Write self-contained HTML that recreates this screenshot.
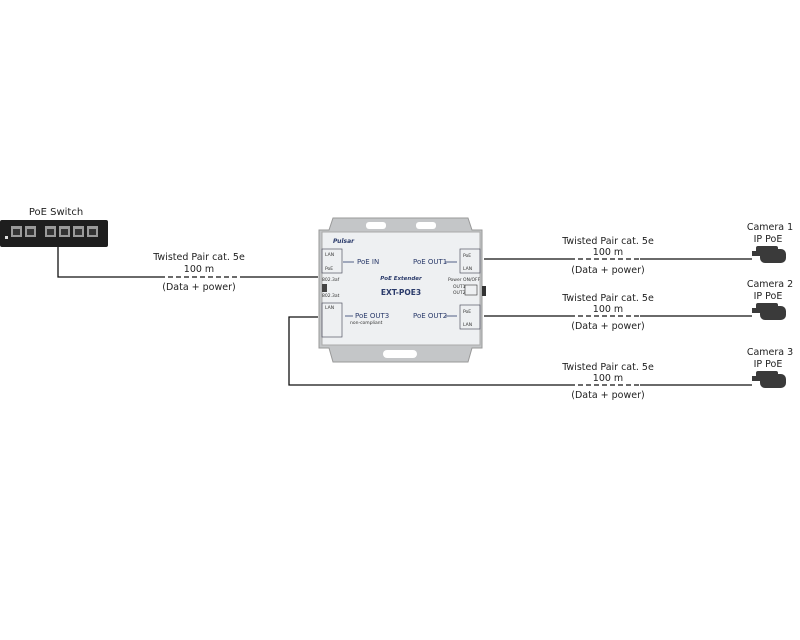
<!DOCTYPE html>
<html><head><style>
body{margin:0;background:#fff;width:800px;height:640px;overflow:hidden;font-family:"DejaVu Sans","Liberation Sans",sans-serif}
svg{position:absolute;left:0;top:0}
</style></head><body>
<svg width="800" height="640" viewBox="0 0 800 640" font-family="DejaVu Sans, Liberation Sans, sans-serif">
<!-- switch -->
<text x="56" y="215" font-size="10" text-anchor="middle" fill="#222">PoE Switch</text>
<rect x="0" y="220" width="108" height="27" rx="2" fill="#1e1e1e"/>
<g fill="#9a9a9a">
<rect x="11" y="226" width="11" height="11"/><rect x="25" y="226" width="11" height="11"/>
<rect x="45" y="226" width="11" height="11"/><rect x="59" y="226" width="11" height="11"/>
<rect x="73" y="226" width="11" height="11"/><rect x="87" y="226" width="11" height="11"/>
</g>
<g fill="#333"><rect x="13" y="229" width="7" height="6"/><rect x="27" y="229" width="7" height="6"/><rect x="47" y="229" width="7" height="6"/><rect x="61" y="229" width="7" height="6"/><rect x="75" y="229" width="7" height="6"/><rect x="89" y="229" width="7" height="6"/></g>
<rect x="5" y="236" width="3" height="3" fill="#ddd"/>
<!-- lines -->
<g stroke="#111" stroke-width="1.3" fill="none">
<path d="M58 247 V277 H160 M240 277 H318"/>
<path d="M484 259 H570 M640 259 H752"/>
<path d="M484 316 H570 M640 316 H752"/>
<path d="M318 317 H289 V385 H570 M640 385 H752"/>
<g stroke-dasharray="5,3"><path d="M160 277 H240"/><path d="M570 259 H640"/><path d="M570 316 H640"/><path d="M570 385 H640"/></g>
</g>
<g font-size="9.5" text-anchor="middle" fill="#222">
<text x="199" y="260">Twisted Pair cat. 5e</text><text x="199" y="272">100 m</text><text x="199" y="290">(Data + power)</text>
<text x="608" y="244">Twisted Pair cat. 5e</text><text x="608" y="255">100 m</text><text x="608" y="273">(Data + power)</text>
<text x="608" y="301">Twisted Pair cat. 5e</text><text x="608" y="312">100 m</text><text x="608" y="329">(Data + power)</text>
<text x="608" y="370">Twisted Pair cat. 5e</text><text x="608" y="381">100 m</text><text x="608" y="398">(Data + power)</text>
<text x="770" y="230">Camera 1</text><text x="768" y="242">IP PoE</text>
<text x="770" y="287">Camera 2</text><text x="768" y="299">IP PoE</text>
<text x="770" y="355">Camera 3</text><text x="768" y="367">IP PoE</text>
</g>
<!-- cameras -->
<g fill="#3a3a3a">
<g transform="translate(752,246)"><rect x="4" y="0" width="22" height="7" rx="2"/><rect x="8" y="3" width="26" height="14" rx="5"/><rect x="0" y="5" width="10" height="5"/></g>
<g transform="translate(752,303)"><rect x="4" y="0" width="22" height="7" rx="2"/><rect x="8" y="3" width="26" height="14" rx="5"/><rect x="0" y="5" width="10" height="5"/></g>
<g transform="translate(752,371)"><rect x="4" y="0" width="22" height="7" rx="2"/><rect x="8" y="3" width="26" height="14" rx="5"/><rect x="0" y="5" width="10" height="5"/></g>
</g>
<!-- device -->
<path d="M333 218 H468 L472 230 H482 V348 H472 L468 362 H333 L329 348 H319 V230 H329 Z" fill="#c4c6c8" stroke="#999"/>
<rect x="366" y="222" width="20" height="7" rx="3" fill="#fff"/><rect x="416" y="222" width="20" height="7" rx="3" fill="#fff"/>
<rect x="383" y="350" width="34" height="8" rx="4" fill="#fff"/>
<rect x="322" y="232" width="158" height="113" fill="#eef0f2" stroke="#aaa"/>
<text x="333" y="243" font-size="6" fill="#2a3a6a" font-style="italic" font-weight="bold">Pulsar</text>
<g stroke="#556" fill="none" stroke-width="0.7">
<rect x="322" y="249" width="20" height="24"/><rect x="460" y="249" width="20" height="24"/>
<rect x="322" y="303" width="20" height="34"/><rect x="460" y="305" width="20" height="24"/>
</g>
<g font-size="4.5" fill="#333"><text x="325" y="256">LAN</text><text x="325" y="270">PoE</text><text x="463" y="257">PoE</text><text x="463" y="270">LAN</text><text x="325" y="309">LAN</text><text x="463" y="313">PoE</text><text x="463" y="326">LAN</text>
<text x="322" y="281">802.3af</text><text x="322" y="297">802.3at</text><text x="448" y="281">Power ON/OFF</text><text x="453" y="288">OUT1</text><text x="453" y="294">OUT2</text><text x="350" y="324">non-compliant</text></g>
<g font-size="7" fill="#2a3a6a"><text x="357" y="264">PoE IN</text><text x="413" y="264">PoE OUT1</text><text x="355" y="318">PoE OUT3</text><text x="413" y="318">PoE OUT2</text></g>
<g stroke="#2a3a6a" stroke-width="0.8"><path d="M343 262 H354"/><path d="M445 262 H457"/><path d="M345 316 H353"/><path d="M445 316 H457"/></g>
<text x="401" y="280" font-size="5.5" text-anchor="middle" fill="#2a3a6a" font-style="italic" font-weight="bold">PoE Extender</text>
<text x="401" y="295" font-size="7.5" text-anchor="middle" fill="#2a3a6a" font-weight="bold">EXT-POE3</text>
<rect x="322" y="284" width="5" height="8" fill="#444"/><rect x="465" y="285" width="12" height="10" fill="none" stroke="#333" stroke-width="0.6"/>
<rect x="482" y="286" width="4" height="10" fill="#333"/>
</svg>
</body></html>
